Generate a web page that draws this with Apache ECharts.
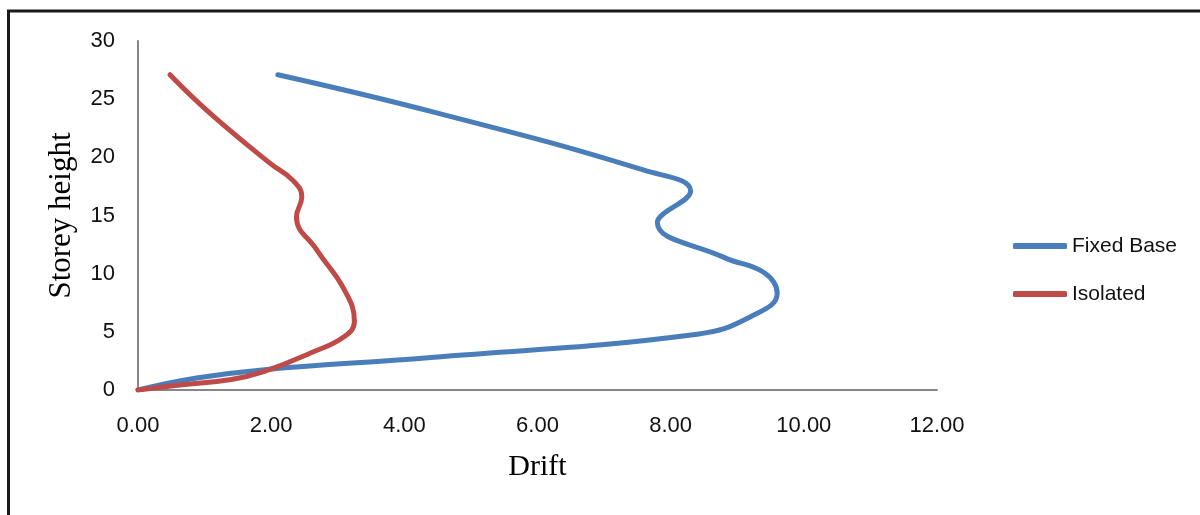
<!DOCTYPE html>
<html>
<head>
<meta charset="utf-8">
<script src="https://cdn.jsdelivr.net/npm/echarts@6/dist/echarts.min.js"></script>
<style>
html,body{margin:0;padding:0;background:#fff;}
#main{width:1200px;height:515px;}
</style>
</head>
<body>
<div id="main"></div>
<script>
const seriesNames = ['Fixed Base', 'Isolated'];
const fixedDrift  = [0, 0.88, 1.9, 4.4, 8.4, 9.2, 9.6, 9.4, 8.8, 7.8, 8.3, 7.6, 4.5, 2.1];
const fixedHeight = [0, 1.03, 1.75, 2.8, 4.8, 6.3, 8.3, 10.1, 11.4, 14.4, 17.1, 18.9, 23.8, 27.1];
const isoDrift  = [0, 0.63, 1.4, 1.9, 2.6, 3.1, 3.25, 3.1, 2.69, 2.38, 2.46, 2.33, 1.98, 1.08, 0.48];
const isoHeight = [0, 0.43, 0.9, 1.6, 3.2, 4.6, 5.9, 8.6, 12.0, 14.9, 16.6, 18.0, 19.5, 23.8, 27.1];
const xTicks = [0, 2, 4, 6, 8, 10, 12];
const yTicks = [0, 5, 10, 15, 20, 25, 30];

const pairs = (xs, ys) => xs.map((x, i) => [x, ys[i]]);
const chart = echarts.init(document.getElementById('main'));
const axisColor = '#868686';
chart.setOption({
  animation: false,
  backgroundColor: '#fff',
  grid: { left: 138, right: 263, top: 41, bottom: 125, containLabel: false },
  xAxis: {
    type: 'value', min: xTicks[0], max: xTicks[xTicks.length - 1], interval: 2,
    name: 'Drift', nameLocation: 'middle', nameGap: 62,
    nameTextStyle: { fontFamily: 'Liberation Serif', fontSize: 30, color: '#000' },
    axisLine: { show: true, lineStyle: { color: axisColor, width: 2 } },
    axisTick: { show: false },
    splitLine: { show: false },
    axisLabel: { formatter: v => v.toFixed(2), fontFamily: 'Liberation Sans', fontSize: 22, color: '#111', margin: 25 }
  },
  yAxis: {
    type: 'value', min: yTicks[0], max: yTicks[yTicks.length - 1], interval: 5,
    name: 'Storey height', nameLocation: 'middle', nameGap: 61, nameRotate: 90,
    nameTextStyle: { fontFamily: 'Liberation Serif', fontSize: 31, color: '#000' },
    axisLine: { show: true, lineStyle: { color: axisColor, width: 2 } },
    axisTick: { show: false },
    splitLine: { show: false },
    axisLabel: { fontFamily: 'Liberation Sans', fontSize: 22, color: '#111', margin: 23 }
  },
  legend: {
    orient: 'vertical', left: 1008, top: 230,
    itemWidth: 54, itemHeight: 6, itemGap: 26,
    icon: 'roundRect',
    textStyle: { fontFamily: 'Liberation Sans', fontSize: 21, color: '#111', lineHeight: 22, padding: [0, 0, 0, 0] },
    data: seriesNames
  },
  series: [
    {
      name: seriesNames[0], type: 'line', smooth: 0.45, showSymbol: false, symbol: 'none',
      data: pairs(fixedDrift, fixedHeight),
      lineStyle: { color: '#4A7EBB', width: 5, cap: 'round' },
      itemStyle: { color: '#4A7EBB' }
    },
    {
      name: seriesNames[1], type: 'line', smooth: 0.45, showSymbol: false, symbol: 'none',
      data: pairs(isoDrift, isoHeight),
      lineStyle: { color: '#BE4B48', width: 5, cap: 'round' },
      itemStyle: { color: '#BE4B48' }
    }
  ],
  graphic: [
    { type: 'line', shape: { x1: 7, y1: 11, x2: 1200, y2: 11 }, style: { stroke: '#1a1a1a', lineWidth: 3 } },
    { type: 'line', shape: { x1: 8.5, y1: 10, x2: 8.5, y2: 515 }, style: { stroke: '#1a1a1a', lineWidth: 3 } }
  ]
});
</script>
</body>
</html>
